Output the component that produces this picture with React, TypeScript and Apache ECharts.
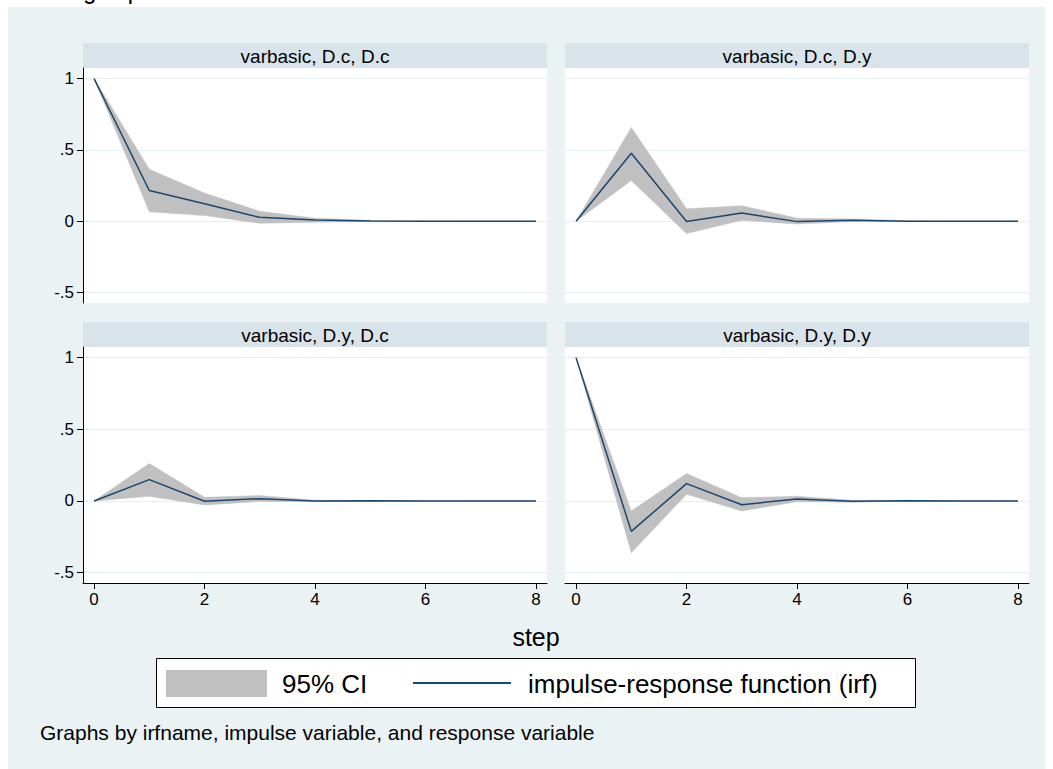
import React, { useEffect, useRef } from "react";
import * as echarts from "echarts";

// ---- data ----
const steps = [0, 1, 2, 3, 4, 5, 6, 7, 8];
const xTicks = [0, 2, 4, 6, 8];
const yTicks = [-0.5, 0, 0.5, 1];
const panelTitles = [
  "varbasic, D.c, D.c",
  "varbasic, D.c, D.y",
  "varbasic, D.y, D.c",
  "varbasic, D.y, D.y",
];

// impulse D.c -> response D.c
const irfCC = [1, 0.216, 0.123, 0.028, 0.009, 0.002, 0.001, 0.0, 0.0];
const loCC = [1, 0.067, 0.04, -0.014, -0.006, -0.002, -0.001, 0.0, 0.0];
const hiCC = [1, 0.365, 0.198, 0.07, 0.022, 0.007, 0.003, 0.001, 0.0];
// impulse D.c -> response D.y
const irfCY = [0, 0.477, -0.001, 0.058, -0.002, 0.008, 0.0, 0.0, 0.0];
const loCY = [0, 0.286, -0.086, 0.007, -0.019, -0.002, -0.002, 0.0, 0.0];
const hiCY = [0, 0.658, 0.088, 0.109, 0.022, 0.017, 0.004, 0.001, 0.0];
// impulse D.y -> response D.c
const irfYC = [0, 0.149, -0.002, 0.016, 0.0, 0.001, 0.0, 0.0, 0.0];
const loYC = [0, 0.033, -0.028, -0.003, -0.005, -0.001, 0.0, 0.0, 0.0];
const hiYC = [0, 0.261, 0.026, 0.038, 0.005, 0.003, 0.001, 0.0, 0.0];
// impulse D.y -> response D.y
const irfYY = [1, -0.212, 0.121, -0.026, 0.014, -0.002, 0.002, 0.0, 0.0];
const loYY = [1, -0.361, 0.047, -0.07, -0.005, -0.009, -0.001, -0.001, 0.0];
const hiYY = [1, -0.07, 0.191, 0.023, 0.033, 0.005, 0.004, 0.001, 0.0];

const ciName = "95% CI";
const irfName = "impulse-response function (irf)";
const xTitle = "step";
const noteText = "Graphs by irfname, impulse variable, and response variable";
const topText = "irf graph irf";

const FONT = "'Liberation Sans', Arial, Helvetica, sans-serif";
const BG = "#eaf2f3";
const HEAD = "#d9e4ea";
const BAND = "#c0c0c0";
const NAVY = "#1a476f";

const panels = [
  { irf: irfCC, lo: loCC, hi: hiCC },
  { irf: irfCY, lo: loCY, hi: hiCY },
  { irf: irfYC, lo: loYC, hi: hiYC },
  { irf: irfYY, lo: loYY, hi: hiYY },
];

const gridBoxes = [
  { left: 83, top: 68, width: 464, height: 235 },
  { left: 565, top: 68, width: 464, height: 235 },
  { left: 83, top: 347, width: 464, height: 236 },
  { left: 565, top: 347, width: 464, height: 236 },
];

const fmtY = (v: number) => {
  if (v === 0) return "0";
  if (v === 1) return "1";
  const s = String(Math.abs(v)).replace(/^0/, "");
  return (v < 0 ? "-" : "") + s;
};

export default function App() {
  const ref = useRef<HTMLDivElement>(null);
  useEffect(() => {
    document.body.style.margin = "0";
    if (!ref.current) return;
    const chart = echarts.init(ref.current, null, { renderer: "svg" });

    const grid = gridBoxes.map((g) => ({
      ...g,
      show: true,
      backgroundColor: "#ffffff",
      borderWidth: 0,
      containLabel: false,
      outerBoundsMode: "none",
    }));

    const xAxis = gridBoxes.map((_, i) => ({
      type: "value",
      gridIndex: i,
      min: -0.2,
      max: 8.2,
      show: i >= 2,
      axisLine: { show: true, onZero: false, lineStyle: { color: "#000", width: 1 } },
      axisTick: { show: true, length: 6, customValues: xTicks, lineStyle: { color: "#000" } },
      axisLabel: {
        show: true,
        customValues: xTicks,
        fontSize: 17,
        fontFamily: FONT,
        color: "#000",
        margin: 8,
      },
      splitLine: { show: false },
    }));

    const yAxis = gridBoxes.map((_, i) => {
      const left = i % 2 === 0;
      return {
        type: "value",
        gridIndex: i,
        min: -0.572,
        max: 1.074,
        axisLine: { show: left, onZero: false, lineStyle: { color: "#000", width: 1 } },
        axisTick: { show: left, length: 6, customValues: yTicks, lineStyle: { color: "#000" } },
        axisLabel: {
          show: left,
          customValues: yTicks,
          formatter: fmtY,
          fontSize: 17,
          fontFamily: FONT,
          color: "#000",
          margin: 9,
        },
        splitLine: { show: true, lineStyle: { color: "#e4edf0", width: 1 } },
      };
    });

    const series: any[] = [];
    panels.forEach((p, i) => {
      series.push({
        type: "custom",
        name: ciName,
        xAxisIndex: i,
        yAxisIndex: i,
        data: steps.map((s, k) => [s, p.lo[k], p.hi[k]]),
        encode: { x: 0, y: [1, 2] },
        silent: true,
        renderItem: (params: any, api: any) => {
          if (params.dataIndex !== 0) return null;
          const upper = steps.map((s, k) => api.coord([s, p.hi[k]]));
          const lower = steps.map((s, k) => api.coord([s, p.lo[k]])).reverse();
          return {
            type: "polygon",
            shape: { points: upper.concat(lower) },
            style: { fill: BAND, stroke: BAND, lineWidth: 0.5 },
          };
        },
      });
      series.push({
        type: "line",
        name: irfName,
        xAxisIndex: i,
        yAxisIndex: i,
        data: steps.map((s, k) => [s, p.irf[k]]),
        symbol: "none",
        silent: true,
        z: 3,
        lineStyle: { color: NAVY, width: 1.5 },
      });
    });

    const headers: any[] = [];
    gridBoxes.forEach((g, i) => {
      headers.push({
        type: "rect",
        shape: { x: g.left, y: g.top - 25, width: g.width, height: 25 },
        style: { fill: HEAD },
      });
      headers.push({
        type: "text",
        x: g.left + g.width / 2,
        y: g.top - 12,
        style: {
          text: panelTitles[i],
          align: "center",
          verticalAlign: "middle",
          fontSize: 19,
          fontFamily: FONT,
          fill: "#000",
        },
      });
    });

    const graphic: any[] = [
      { type: "rect", shape: { x: 0, y: 0, width: 1053, height: 7 }, style: { fill: "#fff" } },
      { type: "rect", shape: { x: 0, y: 0, width: 8, height: 769 }, style: { fill: "#fff" } },
      { type: "rect", shape: { x: 1045, y: 0, width: 8, height: 769 }, style: { fill: "#fff" } },
      {
        type: "text",
        x: 22,
        y: 5,
        style: {
          text: topText,
          align: "left",
          verticalAlign: "bottom",
          fontSize: 25,
          fontFamily: "'Liberation Mono', 'DejaVu Sans Mono', monospace",
          fill: "#000",
        },
      },
      ...headers,
      {
        type: "text",
        x: 536,
        y: 637,
        style: {
          text: xTitle,
          align: "center",
          verticalAlign: "middle",
          fontSize: 25,
          fontFamily: FONT,
          fill: "#000",
        },
      },
      {
        type: "rect",
        shape: { x: 156.5, y: 658.5, width: 759, height: 49 },
        style: { fill: "#fff", stroke: "#000", lineWidth: 1 },
      },
      {
        type: "rect",
        shape: { x: 166, y: 670, width: 101, height: 27 },
        style: { fill: BAND },
      },
      {
        type: "text",
        x: 282,
        y: 684,
        style: {
          text: ciName,
          align: "left",
          verticalAlign: "middle",
          fontSize: 26,
          fontFamily: FONT,
          fill: "#000",
        },
      },
      {
        type: "line",
        shape: { x1: 413, y1: 683, x2: 511, y2: 683 },
        style: { stroke: NAVY, lineWidth: 2 },
      },
      {
        type: "text",
        x: 528,
        y: 684,
        style: {
          text: irfName,
          align: "left",
          verticalAlign: "middle",
          fontSize: 26,
          fontFamily: FONT,
          fill: "#000",
        },
      },
      {
        type: "text",
        x: 40,
        y: 732,
        style: {
          text: noteText,
          align: "left",
          verticalAlign: "middle",
          fontSize: 21,
          fontFamily: FONT,
          fill: "#000",
        },
      },
    ];

    chart.setOption({
      animation: false,
      backgroundColor: BG,
      grid,
      xAxis,
      yAxis,
      series,
      graphic,
    });
    return () => chart.dispose();
  }, []);
  return <div ref={ref} style={{ width: 1053, height: 769 }} />;
}
